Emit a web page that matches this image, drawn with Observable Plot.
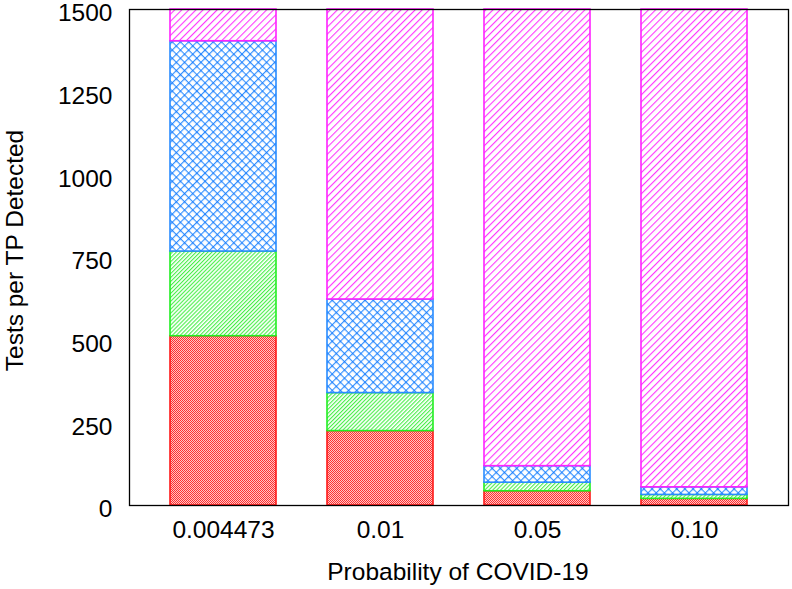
<!DOCTYPE html>
<html>
<head>
<meta charset="utf-8">
<script src="https://cdn.jsdelivr.net/npm/d3@7"></script>
<script src="https://cdn.jsdelivr.net/npm/@observablehq/plot@0.6"></script>
<style>
  html, body { margin: 0; padding: 0; background: white; }
</style>
</head>
<body>
<div id="chart"></div>
<script>
// ---- data ----
const probabilities = ["0.004473", "0.01", "0.05", "0.10"];
const seriesNames = ["S1", "S2", "S3", "S4"];
const seriesS1 = [512, 225, 43, 20];     // red (bottom)
const seriesS2 = [256, 115, 26, 12];     // green
const seriesS3 = [636, 283, 50, 23];     // blue
const seriesS4 = [96, 877, 1381, 1445];  // magenta (top, visible part)
const yTicks = [0, 250, 500, 750, 1000, 1250, 1500];
const yTitle = "Tests per TP Detected";
const xTitle = "Probability of COVID-19";

const strokeColors = {S1: "#ff1a1a", S2: "#22ee22", S3: "#2a8cff", S4: "#ff22ff"};
const fillPatterns = {S1: "url(#patS1)", S2: "url(#patS2)", S3: "url(#patS3)", S4: "url(#patS4)"};

const allSeries = [seriesS1, seriesS2, seriesS3, seriesS4];
const rows = [];
seriesNames.forEach((s, i) => {
  probabilities.forEach((p, j) => rows.push({prob: p, series: s, value: allSeries[i][j]}));
});

const FS = 24.5;
const svg = Plot.plot({
  width: 792,
  height: 589,
  marginLeft: 129,
  marginRight: 4,
  marginTop: 9,
  marginBottom: 84,
  style: {fontFamily: "'Liberation Sans', Arial, sans-serif", fontSize: FS + "px", background: "white", color: "black", overflow: "visible"},
  x: {domain: probabilities, paddingInner: 0.325, paddingOuter: 0.261},
  y: {domain: [0, 1500]},
  color: {type: "identity"},
  marks: [
    Plot.barY(rows, {
      x: "prob",
      y: "value",
      z: "series",
      fill: d => fillPatterns[d.series],
      stroke: d => strokeColors[d.series],
      strokeWidth: 1.6
    }),
    Plot.frame({stroke: "black", strokeWidth: 1.3}),
    Plot.axisY({ticks: yTicks, tickFormat: d3.format("d"), tickSize: 0, tickPadding: 17, dy: 4, label: null, fontSize: FS}),
    Plot.axisX({tickSize: 0, tickPadding: 15, label: null, fontSize: FS}),
    Plot.text([yTitle], {frameAnchor: "left", dx: -114, dy: -7, rotate: -90, fontSize: FS, textAnchor: "middle", lineAnchor: "middle", wordSpacing: "2px"}),
    Plot.text([xTitle], {frameAnchor: "bottom", dy: 67, dx: -1, fontSize: FS, textAnchor: "middle", lineAnchor: "middle", wordSpacing: "2px"})
  ]
});

// hatch patterns
const defs = d3.select(svg).insert("defs", ":first-child");
// red: fine checker
const pR = defs.append("pattern").attr("id", "patS1").attr("width", 2).attr("height", 2).attr("patternUnits", "userSpaceOnUse");
pR.append("rect").attr("width", 2).attr("height", 2).attr("fill", "#ffc4c4");
pR.append("rect").attr("width", 1).attr("height", 1).attr("fill", "#ff3030");
pR.append("rect").attr("x", 1).attr("y", 1).attr("width", 1).attr("height", 1).attr("fill", "#ff3030");
// green: dense "/" lines
const pG = defs.append("pattern").attr("id", "patS2").attr("width", 2.8).attr("height", 2.8).attr("patternUnits", "userSpaceOnUse").attr("patternTransform", "rotate(45)");
pG.append("rect").attr("width", 2.8).attr("height", 2.8).attr("fill", "white");
pG.append("line").attr("x1", 0.6).attr("y1", 0).attr("x2", 0.6).attr("y2", 2.8).attr("stroke", "#33ee33").attr("stroke-width", 1);
// blue: diagonal crosshatch
const pB = defs.append("pattern").attr("id", "patS3").attr("width", 5.8).attr("height", 5.8).attr("patternUnits", "userSpaceOnUse").attr("patternTransform", "rotate(45)");
pB.append("rect").attr("width", 5.8).attr("height", 5.8).attr("fill", "white");
pB.append("line").attr("x1", 0.6).attr("y1", 0).attr("x2", 0.6).attr("y2", 5.8).attr("stroke", "#2a8cff").attr("stroke-width", 1.1);
pB.append("line").attr("x1", 0).attr("y1", 0.6).attr("x2", 5.8).attr("y2", 0.6).attr("stroke", "#2a8cff").attr("stroke-width", 1.1);
pB.append("rect").attr("x", 0).attr("y", 0).attr("width", 1.4).attr("height", 1.4).attr("fill", "#1a7cff");
// magenta: "/" lines
const pM = defs.append("pattern").attr("id", "patS4").attr("width", 5).attr("height", 5).attr("patternUnits", "userSpaceOnUse").attr("patternTransform", "rotate(45)");
pM.append("rect").attr("width", 5).attr("height", 5).attr("fill", "white");
pM.append("line").attr("x1", 0.6).attr("y1", 0).attr("x2", 0.6).attr("y2", 5).attr("stroke", "#ff22ff").attr("stroke-width", 1);

document.getElementById("chart").appendChild(svg);
</script>
</body>
</html>
